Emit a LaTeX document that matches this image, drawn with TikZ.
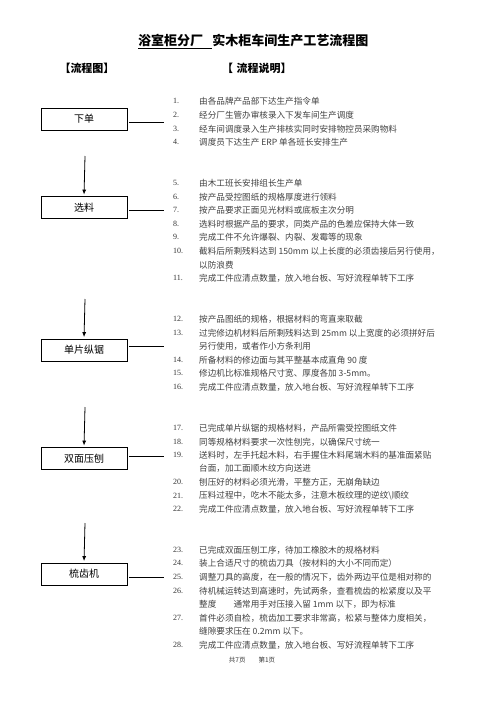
\documentclass[tikz,border=0pt]{standalone}
\usepackage{fontspec}
\setmainfont{Liberation Serif}
\newfontfamily\cjk{Noto Sans CJK SC}
\usetikzlibrary{arrows.meta}
\tikzset{
  stepbox/.style={draw, line width=0.8pt, minimum width=86pt, minimum height=22pt, inner sep=0pt, font=\cjk\fontsize{10}{12}\selectfont},
  num/.style={anchor=west, inner sep=0pt, text=black!80, font=\fontsize{8}{10}\selectfont},
  txt/.style={anchor=west, inner sep=0pt, text=black!75, font=\cjk\fontsize{8.6}{10}\selectfont},
  arr/.style={line width=0.8pt, -{Latex[length=5pt,width=4pt]}, shorten >=1.5pt},
  link/.style={line width=0.8pt},
  head/.style={inner sep=0pt, font=\cjk\bfseries\fontsize{11}{13}\selectfont}
}
\begin{document}
\begin{tikzpicture}[x=1pt,y=-1pt]
\useasboundingbox (0,0) rectangle (496,702);
% title and headers
\node[anchor=west, inner sep=0pt, font=\cjk\bfseries\fontsize{13}{15}\selectfont] (title) at (138,41) {\underline{浴室柜分厂\hspace{0.7em}}实木柜车间生产工艺流程图};
\node[head] (h1) at (87,68) {【流程图】};
\node[head, anchor=west] (h2) at (222,68) {【\hspace{0.3em}流程说明】};
% boxes
\node[stepbox] (b1) at (84,119) {下单};
\node[stepbox] (b2) at (84,207.5) {选料};
\node[stepbox] (b3) at (84,350) {单片纵锯};
\node[stepbox] (b4) at (84,458.5) {双面压刨};
\node[stepbox] (b5) at (84,574) {梳齿机};
% arrow starts and link ends
\coordinate (a1) at (85,156);
\coordinate (a2) at (85,299);
\coordinate (a3) at (85,407);
\coordinate (a4) at (85,523);
\coordinate (l1) at (164,122);
\coordinate (l2) at (164,210);
\coordinate (l3) at (164,346);
\coordinate (l4) at (164,456);
\coordinate (l5) at (164,577);
\draw[arr] (a1) -- (b2.north);
\draw[arr] (a2) -- (b3.north);
\draw[arr] (a3) -- (b4.north);
\draw[arr] (a4) -- (b5.north);
\draw[link] (b1.east |- l1) ++(2,0) -- (l1);
\draw[link] (b2.east |- l2) ++(2,0) -- (l2);
\draw[link] (b3.east |- l3) ++(2,0) -- (l3);
\draw[link] (b4.east |- l4) ++(2,0) -- (l4);
\draw[link] (b5.east |- l5) ++(2,0) -- (l5);
% list 1-4
\node[num] (n1) at (173,101) {1.}; \node[txt] (t1) at (199,101) {由各品牌产品部下达生产指令单};
\node[num] (n2) at (173,115) {2.}; \node[txt] (t2) at (199,115) {经分厂生管办审核录入下发车间生产调度};
\node[num] (n3) at (173,129) {3.}; \node[txt] (t3) at (199,129) {经车间调度录入生产排核实同时安排物控员采购物料};
\node[num] (n4) at (173,142) {4.}; \node[txt] (t4) at (199,142) {调度员下达生产 ERP 单各班长安排生产};
% list 5-11
\node[num] (n5) at (173,183) {5.}; \node[txt] (t5) at (199,183) {由木工班长安排组长生产单};
\node[num] (n6) at (173,197) {6.}; \node[txt] (t6) at (199,197) {按产品受控图纸的规格厚度进行领料};
\node[num] (n7) at (173,210) {7.}; \node[txt] (t7) at (199,210) {按产品要求正面见光材料或底板主次分明};
\node[num] (n8) at (173,224) {8.}; \node[txt] (t8) at (199,224) {选料时根据产品的要求，同类产品的色差应保持大体一致};
\node[num] (n9) at (173,237) {9.}; \node[txt] (t9) at (199,237) {完成工件不允许爆裂、内裂、发霉等的现象};
\node[num] (n10) at (173,251) {10.}; \node[txt] (t10) at (199,251) {截料后所剩残料达到 150mm 以上长度的必须齿接后另行使用，};
\node[txt] (t10b) at (199,265) {以防浪费};
\node[num] (n11) at (173,278) {11.}; \node[txt] (t11) at (199,278) {完成工件应清点数量，放入地台板、写好流程单转下工序};
% list 12-16
\node[num] (n12) at (173,319) {12.}; \node[txt] (t12) at (199,319) {按产品图纸的规格，根据材料的弯直来取截};
\node[num] (n13) at (173,333) {13.}; \node[txt] (t13) at (199,333) {过完修边机材料后所剩残料达到 25mm 以上宽度的必须拼好后};
\node[txt] (t13b) at (199,346) {另行使用，或者作小方条利用};
\node[num] (n14) at (173,360) {14.}; \node[txt] (t14) at (199,360) {所备材料的修边面与其平整基本成直角 90 度};
\node[num] (n15) at (173,373) {15.}; \node[txt] (t15) at (199,373) {修边机比标准规格尺寸宽、厚度各加 3-5mm。};
\node[num] (n16) at (173,387) {16.}; \node[txt] (t16) at (199,387) {完成工件应清点数量，放入地台板、写好流程单转下工序};
% list 17-22
\node[num] (n17) at (173,428) {17.}; \node[txt] (t17) at (199,428) {已完成单片纵锯的规格材料，产品所需受控图纸文件};
\node[num] (n18) at (173,442) {18.}; \node[txt] (t18) at (199,442) {同等规格材料要求一次性刨完，以确保尺寸统一};
\node[num] (n19) at (173,455) {19.}; \node[txt] (t19) at (199,455) {送料时，左手托起木料，右手握住木料尾端木料的基准面紧贴};
\node[txt] (t19b) at (199,468) {台面，加工面顺木纹方向送进};
\node[num] (n20) at (173,482) {20.}; \node[txt] (t20) at (199,482) {刨压好的材料必须光滑，平整方正，无崩角缺边};
\node[num] (n21) at (173,496) {21.}; \node[txt] (t21) at (199,496) {压料过程中，吃木不能太多，注意木板纹理的逆纹\textbackslash 顺纹};
\node[num] (n22) at (173,509) {22.}; \node[txt] (t22) at (199,509) {完成工件应清点数量，放入地台板、写好流程单转下工序};
% list 23-28
\node[num] (n23) at (173,550) {23.}; \node[txt] (t23) at (199,550) {已完成双面压刨工序，待加工橡胶木的规格材料};
\node[num] (n24) at (173,563) {24.}; \node[txt] (t24) at (199,563) {装上合适尺寸的梳齿刀具（按材料的大小不同而定）};
\node[num] (n25) at (173,577) {25.}; \node[txt] (t25) at (199,577) {调整刀具的高度，在一般的情况下，齿外两边平位是相对称的};
\node[num] (n26) at (173,591) {26.}; \node[txt] (t26) at (199,591) {待机械运转达到高速时，先试两条，查看梳齿的松紧度以及平};
\node[txt] (t26b) at (199,604) {整度\hspace{2em}通常用手对压接入留 1mm 以下，即为标准};
\node[num] (n27) at (173,618) {27.}; \node[txt] (t27) at (199,618) {首件必须自检，梳齿加工要求非常高，松紧与整体力度相关，};
\node[txt] (t27b) at (199,631) {缝隙要求压在 0.2mm 以下。};
\node[num] (n28) at (173,645) {28.}; \node[txt] (t28) at (199,645) {完成工件应清点数量，放入地台板、写好流程单转下工序};
% footer
\node[inner sep=0pt, text=black!80, font=\cjk\fontsize{6.5}{8}\selectfont] (foot) at (252,660) {共7页\hspace{2em}第1页};
\end{tikzpicture}
\end{document}
